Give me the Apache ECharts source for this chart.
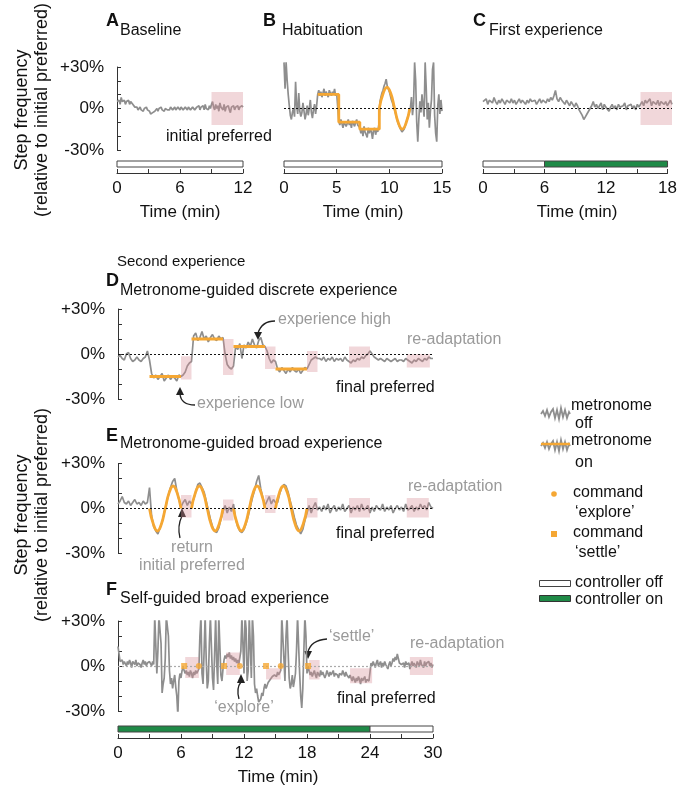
<!DOCTYPE html>
<html lang="en" style="height: 100%">
<head>
  <meta charset="utf-8">
  <title>Step frequency</title>
</head>
<body style="height: 100%; margin: 0; background: #fff">
  <div id="container" style="width: 680px; height: 789px"></div>

  <script type="text/javascript" src="https://cdn.jsdelivr.net/npm/echarts@6/dist/echarts.min.js"></script>
  <script type="text/javascript">
    var dom = document.getElementById('container');
    var myChart = echarts.init(dom, null, { renderer: 'canvas' });

    // ---- data: traces sampled every step (min), % relative to initial preferred ----
    const stepA = 0.1;
    const traceA = [5,4,6,3,8,5,4,6,3,5,4,6,3,5,4,3,
      2,1,0,1,-1,0,1,-1,0,-2,0,-1,1,-1,0,
      -2,-4,-5,-3,-4,-2,
      -1,0,-2,0,-1,1,-1,0,-2,0,1,-1,0,-1,1,0,-1,0,1,-1,0,1,0,-1,1,0,-1,0,1,0,-1,1,0,-1,0,1,0,-1,0,
      1,0,2,-1,1,0,2,-1,3,0,1,-1,2,0,3,5,1,-1,3,0,2,-2,4,1,0,-1,3,-2,1,0,2,-1,-3,1,0,2,-1,1,0,2,-1,1,0,2,1];

    const stepB = 0.1;
    const traceB = [33,14,33,20,10,
      2,-5,-8,-3,0,-6,19,2,-4,11,-2,
      -6,-3,4,-2,-8,-4,2,-5,0,6,-3,-7,-1,3,-4,2,
      10,13,9,12,8,11,14,9,12,10,8,13,11,9,12,10,14,9,11,10,
      -9,-12,-8,-11,-14,-10,-9,-13,-11,-8,-12,-10,-14,-9,-11,-13,-10,-8,-12,-11,
      -14,-18,-15,-20,-13,-17,-16,-21,-14,-18,-15,-17,-22,-16,-14,-19,-15,-17,-12,
      4,8,11,13,16,18,21,16,14,12,9,6,4,1,-1,-4,-7,-10,-12,-14,-15,-17,-16,-15,-13,-10,-8,-5,-3,0,
      8,-5,3,33,20,-10,-24,-8,5,-3,10,2,-6,33,15,-8,4,-14,-2,6,28,33,-5,-18,-24,2,10,-4,6,-2];
    const metroBSteps = [[3.2,10],[5.2,10],[5.2,-10],[7.2,-10],[7.2,-15],[9.05,-15],[9.05,0]];
    const metroBWave = [[9.05,0],[9.41,10.6],[9.78,15],[10.14,10.6],[10.5,0],[10.86,-10.6],[11.23,-15],[11.59,-10.6],[11.95,0]];

    const stepC = 0.15;
    const traceC = [5,4,7,3,6,5,4,8,5,3,6,4,7,5,3,6,5,4,7,4,6,3,5,7,4,6,5,3,6,4,7,5,4,6,3,5,7,4,6,5,
      4,7,5,8,6,9,13,7,5,8,6,
      5,3,6,4,2,5,3,1,4,2,
      -1,-3,-5,-8,-6,-4,-2,0,
      2,5,1,3,0,2,4,-1,3,1,2,-2,1,3,0,2,-1,3,1,0,2,4,-1,2,1,3,0,2,-1,3,1,
      3,5,2,6,4,3,7,2,5,4,3,6,2,5,4,3,5,2,4,6,3];

    const stepD = 0.2;
    const traceD = [-2,-1,-3,-4,0,1,-3,-5,-4,-2,-4,-5,-3,-2,2,-4,
      -13,-16,-14,-17,-15,-13,-18,-16,-14,-17,-15,-16,-18,-14,-15,
      -14,-12,-8,-6,-5,
      12,14,9,11,15,10,12,8,11,13,10,9,12,10,11,
      0,-7,-9,-10,-8,
      5,3,7,-3,6,4,8,5,10,6,4,9,11,6,5,
      2,-3,-6,-4,-5,
      -10,-12,-9,-11,-13,-10,-12,-9,-11,-12,-10,-13,-11,-9,-10,
      -7,-4,-3,-2,-3,
      -3,-4,-2,-5,-3,-4,-2,-5,-3,-4,-3,-5,-2,-4,-5,
      -6,-4,-5,-3,-4,-2,-3,-1,0,2,
      0,-2,-3,-4,-3,
      -4,-5,-3,-4,-5,-4,-3,-5,-4,-4,-5,-3,-4,-5,-6,-4,-5,-3,-4,-5,-3,-4,-2,-3,-3];
    const metroD = [[3,-15],[6,-15],[6,'-'],[7,10],[10,10],[10,'-'],[11,5],[14,5],[14,'-'],[15,-10],[18,-10]];

    const stepE = 0.2;
    const traceE = [3,5,8,4,3,5,2,4,6,3,4,2,5,3,4,14,
      -5,-12,-15,-17,-13,-9,-3,3,9,14,18,20,12,6,1,
      4,6,2,5,3,
      6,11,16,17,14,11,5,-1,-7,-12,-15,-16,-13,-7,-2,
      2,-3,1,-2,3,
      -7,-12,-15,-16,-14,-10,-5,1,7,12,18,22,13,7,2,
      5,8,3,6,4,
      4,10,14,16,15,11,5,0,-6,-11,-14,-17,-14,-8,-3,
      2,-3,1,4,-1,
      1,-2,2,-1,3,-3,0,2,-2,1,-1,3,-2,0,2,-3,1,-1,2,-2,3,-1,0,2,-3,1,-2,2,0,-1,3,-2,1,-1,2,-3,0,2,-1,1,-2,3,-1,0,2,-2,1,-1,3,0,2,-1,4,1,0];
    const metroE = [[3,0],[3.375,-10.6],[3.75,-15],[4.125,-10.6],[4.5,0],[4.875,10.6],[5.25,15],[5.625,10.6],[6,0],[6,'-'],
      [7,0],[7.375,10.6],[7.75,15],[8.125,10.6],[8.5,0],[8.875,-10.6],[9.25,-15],[9.625,-10.6],[10,0],[10,'-'],
      [11,0],[11.375,-10.6],[11.75,-15],[12.125,-10.6],[12.5,0],[12.875,10.6],[13.25,15],[13.625,10.6],[14,0],[14,'-'],
      [15,0],[15.375,10.6],[15.75,15],[16.125,10.6],[16.5,0],[16.875,-10.6],[17.25,-15],[17.625,-10.6],[18,0]];

    const stepF = 0.1;
    const traceF = [13,8,3,2,4,1,3,2,0,3,1,4,2,-1,3,2,1,4,0,2,3,1,-1,2,4,1,3,0,2,1,3,2,0,3,1,
      33,33,-5,10,33,33,15,-18,-12,-8,5,33,33,20,-3,-12,-8,-15,-10,-6,-14,-20,-33,-10,-5,-8,-3,-1,
      -2,-5,-3,-6,-4,-7,-3,-5,-8,-4,-6,-3,-5,-4,-2,
      20,33,-5,-12,10,33,5,-15,-10,15,33,33,-8,-16,8,33,2,-12,33,33,-6,-10,-2,
      4,7,5,8,6,9,5,7,4,6,3,5,2,4,1,0,
      10,33,33,-5,33,25,-10,-3,33,33,-8,33,20,-12,-18,-15,-20,-24,-25,-22,-18,-20,-15,-12,
      -15,-13,-11,-10,-9,-8,-7,-8,-6,-5,-7,-4,-6,-5,-3,
      33,33,5,-10,20,33,10,-8,-15,-12,-6,-14,-10,-5,10,33,33,-5,-20,-28,-15,10,33,20,-5,0,
      -3,-6,-4,-7,-5,-3,-6,-8,-4,-5,-7,-3,-6,-4,-5,-8,-6,-3,-5,-7,-4,-6,-5,-3,-7,-5,-4,-6,-8,-5,-4,-6,-3,-5,-7,-4,-6,-5,-8,-6,
      -8,-10,-7,-9,-11,-8,-10,-7,-9,-12,-8,-10,-9,-7,-11,-9,-8,-10,-9,
      2,0,3,1,-1,2,4,0,1,3,-1,2,0,3,1,2,-2,1,3,0,2,5,3,6,4,8,5,2,3,1,0,2,-1,3,1,0,2,-2,1,3,0,2,1,-1,3,2,0,4,1,2,-1,3,0,2,1,3,0,2,-1,1];
    const exploreF = [[7.7,0],[11.6,0],[15.5,0]];
    const settleF = [[6.3,0],[10.1,0],[14.1,0],[18.1,0]];

    // shaded windows: [start, end, low, high]
    const windowsA = [[9,12,-12,12]];
    const windowsC = [[15,18,-12,12]];
    const windowsD = [[6,7,-17,-1.5],[10,11,-14,10],[14,15,-10,5],[18,19,-12,2],[22,24,-9,5],[27.5,29.7,-9,0]];
    const windowsE = [[6,7,-6,9],[10,11,-8,6],[14,15,-3,9],[18,19,-6,7],[22,24,-6,7],[27.5,29.6,-6,7]];
    const windowsF = [[6.4,7.7,-8,6],[10.3,11.6,-6,9],[14.1,15.5,-9,-1.5],[18.2,19.2,-9,4],[22.1,24.2,-11.5,-1.5],[27.8,30,-6,6]];

    // controller state: [start, end, on]
    const ctrlA = [[0,12,0]];
    const ctrlB = [[0,15,0]];
    const ctrlC = [[0,6,0],[6,18,1]];
    const ctrlF = [[0,24,1],[24,30,0]];

    const FONT = '"Liberation Sans", Arial, sans-serif';
    const GREY = '#8e8e8e';
    const ORANGE = '#f5a733';
    const PINK = 'rgba(215,140,150,0.35)';
    const GREEN = '#1f8a47';
    const AXIS = '#333';
    const NOTE = '#9a9a9a';

    function pairs(values, step) {
      return values.map(function (v, i) { return [Math.round(i * step * 100) / 100, v]; });
    }

    function traceX(g, max) {
      return { gridIndex: g, type: 'value', min: 0, max: max, show: false };
    }
    function timeX(g, max, interval, every) {
      return {
        gridIndex: g, type: 'value', min: 0, max: max, interval: interval,
        axisLine: { lineStyle: { color: AXIS, width: 1 } },
        axisTick: { inside: true, length: 4, lineStyle: { color: AXIS } },
        axisLabel: { color: '#111', fontSize: 17, fontFamily: FONT, margin: 7,
          formatter: function (v) { return v % every === 0 ? String(v) : ''; } },
        splitLine: { show: false }
      };
    }
    function pctY(g) {
      return {
        gridIndex: g, type: 'value', min: -30, max: 30, interval: 10, offset: 7,
        axisLine: { show: true, lineStyle: { color: AXIS, width: 1 } },
        axisTick: { show: true, inside: true, length: 4, lineStyle: { color: AXIS } },
        axisLabel: { color: '#111', fontSize: 17, fontFamily: FONT, margin: 6,
          formatter: function (v) { return v === 30 ? '+30%' : v === 0 ? '0%' : v === -30 ? '-30%' : ''; } },
        splitLine: { show: false }
      };
    }
    function hiddenY(g, lo, hi) {
      return { gridIndex: g, type: 'value', min: lo, max: hi, show: false };
    }

    function zeroLine(color) {
      return { silent: true, symbol: ['none', 'none'], label: { show: false },
        lineStyle: { color: color, type: [2, 2], width: 1.2 }, data: [{ yAxis: 0 }] };
    }
    function trace(g, values, step, zero) {
      const s = { type: 'line', xAxisIndex: g, yAxisIndex: g, data: pairs(values, step),
        symbol: 'none', silent: true, clip: true, z: 2,
        lineStyle: { color: GREY, width: 1.7 } };
      if (zero) s.markLine = zeroLine(zero);
      return s;
    }
    function shade(g, windows) {
      return { type: 'line', xAxisIndex: g, yAxisIndex: g, data: [], silent: true, z: 3,
        markArea: { silent: true, z: 3, itemStyle: { color: PINK },
          data: windows.map(function (w) { return [{ xAxis: w[0], yAxis: w[2] }, { xAxis: w[1], yAxis: w[3] }]; }) } };
    }
    function metro(g, data, smooth) {
      return { type: 'line', xAxisIndex: g, yAxisIndex: g, data: data, symbol: 'none', silent: true,
        smooth: smooth, connectNulls: false, z: 4, lineStyle: { color: ORANGE, width: 2.8 } };
    }
    function controller(g, data) {
      return { type: 'custom', xAxisIndex: g, yAxisIndex: g, data: data, silent: true,
        renderItem: function (params, api) {
          const p0 = api.coord([api.value(0), 0.8]);
          const p1 = api.coord([api.value(1), 0.4]);
          return { type: 'rect',
            shape: { x: p0[0], y: p0[1], width: p1[0] - p0[0], height: p1[1] - p0[1] },
            style: { fill: api.value(2) === 1 ? GREEN : '#fff', stroke: '#444', lineWidth: 1 } };
        } };
    }

    function txt(x, y, text, extra) {
      return { type: 'text', x: x, y: y, silent: true,
        style: Object.assign({ text: text, fontSize: 16, fontFamily: FONT, fill: '#111',
          align: 'left', verticalAlign: 'middle' }, extra || {}) };
    }
    function vtxt(x, y, text) {
      return { type: 'text', x: x, y: y, rotation: Math.PI / 2, silent: true,
        style: { text: text, fontSize: 18, fontFamily: FONT, fill: '#111', align: 'center', verticalAlign: 'middle' } };
    }
    function arrow(x1, y1, cx, cy, x2, y2, head) {
      return [
        { type: 'bezierCurve', silent: true, shape: { x1: x1, y1: y1, cpx1: cx, cpy1: cy, x2: x2, y2: y2 },
          style: { stroke: '#222', lineWidth: 1.3, fill: null } },
        { type: 'polygon', silent: true, shape: { points: head }, style: { fill: '#222' } }
      ];
    }
    const noiseIcon = [[0,6],[2,3],[4,8],[6,2],[8,9],[10,4],[12,1],[14,10],[16,2],[18,11],[20,0],[22,9],[24,2],[26,10],[28,4],[29,6]];
    function legendNoise(x, y) {
      return { type: 'polyline', silent: true,
        shape: { points: noiseIcon.map(function (p) { return [x + p[0], y + p[1]]; }) },
        style: { stroke: GREY, lineWidth: 1.8, fill: null } };
    }

    const grids = [
      { left: 117, top: 67, width: 126, height: 83 },     // A trace
      { left: 117, top: 158, width: 126, height: 15 },    // A controller
      { left: 284, top: 62.4, width: 158, height: 91.8 }, // B trace
      { left: 284, top: 158, width: 158, height: 15 },    // B controller
      { left: 483, top: 67, width: 189, height: 83 },     // C trace
      { left: 483, top: 158, width: 189, height: 15 },    // C controller
      { left: 118, top: 309, width: 315, height: 90 },    // D trace
      { left: 118, top: 463.5, width: 315, height: 90 },  // E trace
      { left: 118, top: 621, width: 315, height: 90 },    // F trace
      { left: 118, top: 723, width: 315, height: 15 }     // F controller
    ];

    const graphics = [
      vtxt(22, 110, 'Step frequency'), vtxt(42, 110, '(relative to initial preferred)'),
      vtxt(22, 515, 'Step frequency'), vtxt(42, 515, '(relative to initial preferred)'),
      txt(106, 21, 'A', { fontSize: 18, fontWeight: 'bold' }), txt(120, 31, 'Baseline'),
      txt(263, 21, 'B', { fontSize: 18, fontWeight: 'bold' }), txt(282, 31, 'Habituation'),
      txt(473, 21, 'C', { fontSize: 18, fontWeight: 'bold' }), txt(489, 31, 'First experience'),
      txt(180, 212, 'Time (min)', { fontSize: 17, align: 'center' }),
      txt(363, 212, 'Time (min)', { fontSize: 17, align: 'center' }),
      txt(577, 212, 'Time (min)', { fontSize: 17, align: 'center' }),
      txt(166, 137, 'initial preferred'),
      txt(117, 262, 'Second experience', { fontSize: 15 }),
      txt(106, 281, 'D', { fontSize: 18, fontWeight: 'bold' }), txt(120, 291, 'Metronome-guided discrete experience'),
      txt(106, 436, 'E', { fontSize: 18, fontWeight: 'bold' }), txt(120, 444, 'Metronome-guided broad experience'),
      txt(106, 590, 'F', { fontSize: 18, fontWeight: 'bold' }), txt(120, 599, 'Self-guided broad experience'),
      txt(278, 320, 'experience high', { fill: NOTE }),
      txt(407, 340, 're-adaptation', { fill: NOTE }),
      txt(336, 388, 'final preferred'),
      txt(197, 404, 'experience low', { fill: NOTE }),
      txt(408, 487, 're-adaptation', { fill: NOTE }),
      txt(336, 534, 'final preferred'),
      txt(192, 548, 'return', { fill: NOTE, align: 'center' }),
      txt(192, 566, 'initial preferred', { fill: NOTE, align: 'center' }),
      txt(329, 637, '\u2018settle\u2019', { fill: NOTE }),
      txt(410, 644, 're-adaptation', { fill: NOTE }),
      txt(337, 699, 'final preferred'),
      txt(244, 708, '\u2018explore\u2019', { fill: NOTE, align: 'center' }),
      txt(278, 777, 'Time (min)', { fontSize: 17, align: 'center' }),
      // legend
      legendNoise(541, 408), txt(571, 406, 'metronome'), txt(575, 424, 'off'),
      legendNoise(541, 440),
      { type: 'line', silent: true, shape: { x1: 541, y1: 444, x2: 570, y2: 444 }, style: { stroke: ORANGE, lineWidth: 2.5 } },
      txt(571, 441, 'metronome'), txt(575, 463, 'on'),
      { type: 'circle', silent: true, shape: { cx: 554, cy: 494, r: 2.8 }, style: { fill: ORANGE } },
      txt(573, 493, 'command'), txt(575, 513, '\u2018explore\u2019'),
      { type: 'rect', silent: true, shape: { x: 551, y: 531, width: 6, height: 6 }, style: { fill: ORANGE } },
      txt(573, 533, 'command'), txt(575, 553, '\u2018settle\u2019'),
      { type: 'rect', silent: true, shape: { x: 539.5, y: 580.5, width: 31, height: 6 }, style: { fill: '#fff', stroke: '#444', lineWidth: 1 } },
      txt(575, 583, 'controller off'),
      { type: 'rect', silent: true, shape: { x: 539.5, y: 595.5, width: 31, height: 6 }, style: { fill: GREEN, stroke: '#333', lineWidth: 1 } },
      txt(575, 600, 'controller on')
    ].concat(
      arrow(275, 321, 262, 321, 258, 333, [[254, 332], [262, 332], [258, 340]]),
      arrow(195, 405, 181, 405, 180, 394, [[176, 395], [184, 395], [180, 387]]),
      arrow(180, 538, 177, 526, 182, 516, [[178, 517], [186, 517], [182, 508]]),
      arrow(327, 639, 311, 640, 308, 652, [[304, 651], [312, 651], [308, 659]]),
      arrow(239, 699, 236, 688, 241, 682, [[237, 683], [245, 683], [241, 674]])
    );

    option = {
      animation: false,
      backgroundColor: '#fff',
      grid: grids,
      xAxis: [
        traceX(0, 12), timeX(1, 12, 3, 6),
        traceX(2, 15), timeX(3, 15, 5, 5),
        traceX(4, 18), timeX(5, 18, 3, 6),
        traceX(6, 30), traceX(7, 30),
        traceX(8, 30), timeX(9, 30, 3, 6)
      ],
      yAxis: [
        pctY(0), hiddenY(1, 0, 1),
        hiddenY(2, -33, 33), hiddenY(3, 0, 1),
        hiddenY(4, -30, 30), hiddenY(5, 0, 1),
        pctY(6), pctY(7),
        pctY(8), hiddenY(9, 0, 1)
      ],
      series: [
        trace(0, traceA, stepA, null), shade(0, windowsA), controller(1, ctrlA),
        trace(2, traceB, stepB, '#111'), metro(2, metroBSteps, false), metro(2, metroBWave, true), controller(3, ctrlB),
        trace(4, traceC, stepC, '#111'), shade(4, windowsC), controller(5, ctrlC),
        trace(6, traceD, stepD, '#111'), shade(6, windowsD), metro(6, metroD, false),
        trace(7, traceE, stepE, '#111'), shade(7, windowsE), metro(7, metroE, true),
        trace(8, traceF, stepF, '#aaa'), shade(8, windowsF),
        { type: 'scatter', xAxisIndex: 8, yAxisIndex: 8, data: exploreF, symbol: 'circle', symbolSize: 6,
          itemStyle: { color: ORANGE }, z: 5, silent: true },
        { type: 'scatter', xAxisIndex: 8, yAxisIndex: 8, data: settleF, symbol: 'rect', symbolSize: 6,
          itemStyle: { color: ORANGE }, z: 5, silent: true },
        controller(9, ctrlF)
      ],
      graphic: graphics
    };

    if (option && typeof option === 'object') {
      myChart.setOption(option);
    }

    window.addEventListener('resize', myChart.resize);
  </script>
</body>
</html>
